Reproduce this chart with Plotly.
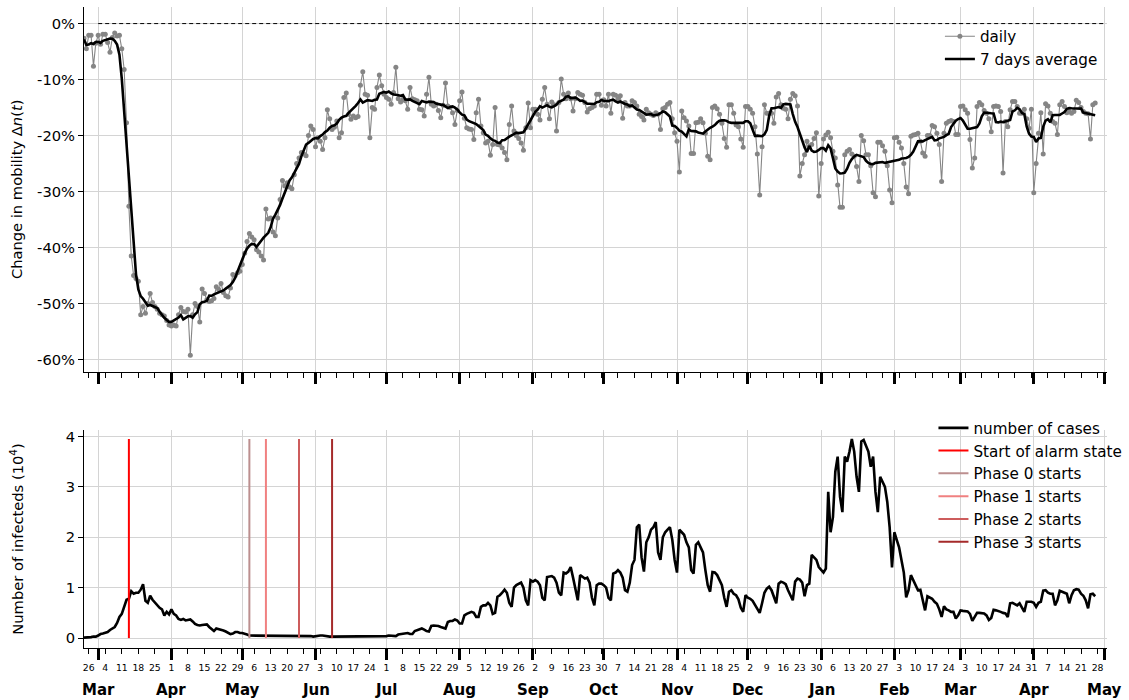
import pandas as pd
import plotly.graph_objects as go

FONT = "DejaVu Sans"
GRID = "#d4d4d4"
START = "2020-02-24"

# Daily change in mobility (%), one row per week (Monday to Sunday)
mobility_weeks = [
    [-2.6, -4.5, -2.1, -2.1, -7.6, -3.5, -2.1],
    [-3.7, -1.9, -1.9, -3.4, -5.1, -2.5, -1.7],
    [-2.2, -2.1, -4.5, -8.2, -17.7, -32.6, -41.5],
    [-45.0, -45.5, -46.0, -52.0, -50.5, -51.7, -50.0],
    [-48.2, -49.8, -50.5, -51.0, -51.7, -52.0, -52.2],
    [-53.0, -53.8, -54.0, -53.8, -54.0, -52.0, -50.7],
    [-51.4, -51.5, -51.0, -59.2, -52.0, -50.0, -50.5],
    [-53.3, -47.4, -48.2, -49.3, -49.6, -49.5, -49.1],
    [-47.0, -47.5, -46.4, -48.0, -48.6, -48.8, -47.2],
    [-44.8, -45.0, -44.5, -44.2, -43.0, -41.0, -38.9],
    [-37.5, -38.1, -38.6, -40.4, -40.8, -41.5, -42.2],
    [-33.1, -34.9, -34.7, -37.2, -37.9, -34.7, -31.4],
    [-28.0, -29.0, -28.4, -29.2, -29.5, -27.0, -25.0],
    [-24.0, -23.0, -23.3, -23.6, -20.0, -18.3, -18.9],
    [-22.0, -20.4, -21.0, -22.5, -20.4, -15.4, -17.0],
    [-18.9, -18.5, -17.4, -20.4, -19.5, -13.2, -12.4],
    [-16.2, -17.1, -16.5, -16.8, -16.6, -11.0, -8.6],
    [-12.6, -12.8, -20.4, -15.0, -15.3, -11.4, -9.2],
    [-11.1, -12.6, -13.2, -13.5, -14.4, -12.3, -7.8],
    [-13.4, -14.0, -13.5, -13.8, -15.3, -11.4, -13.4],
    [-13.6, -13.8, -15.3, -15.4, -16.5, -12.6, -9.6],
    [-14.4, -14.7, -14.4, -15.5, -16.8, -14.6, -10.6],
    [-14.7, -15.0, -15.9, -18.0, -15.5, -13.8, -12.2],
    [-16.9, -18.6, -18.8, -18.9, -20.7, -15.9, -13.5],
    [-18.3, -19.5, -21.3, -21.0, -23.5, -21.6, -15.0],
    [-21.6, -21.7, -22.2, -23.0, -24.3, -18.0, -14.7],
    [-19.2, -20.0, -20.5, -21.3, -22.6, -18.6, -14.2],
    [-18.6, -15.3, -15.3, -16.2, -17.2, -13.5, -11.4],
    [-14.4, -17.0, -14.0, -14.5, -19.2, -14.1, -9.9],
    [-12.6, -13.4, -12.4, -13.4, -15.6, -13.4, -12.3],
    [-12.6, -12.8, -14.1, -15.8, -15.2, -15.0, -14.7],
    [-12.6, -12.6, -14.6, -13.6, -14.7, -12.6, -16.0],
    [-12.6, -12.8, -13.4, -12.9, -16.9, -14.1, -14.7],
    [-14.7, -13.8, -14.1, -14.7, -16.2, -16.6, -17.2],
    [-15.3, -15.9, -16.2, -16.4, -15.9, -16.2, -18.9],
    [-15.2, -15.0, -14.4, -14.1, -17.0, -19.5, -21.0],
    [-26.5, -15.6, -16.8, -17.4, -18.3, -23.2, -23.2],
    [-17.7, -17.6, -17.0, -17.7, -19.6, -23.7, -24.3],
    [-15.0, -14.7, -15.2, -16.2, -17.8, -20.5, -22.1],
    [-14.5, -14.5, -16.0, -18.1, -18.4, -20.6, -22.1],
    [-14.8, -14.8, -15.3, -16.0, -18.4, -23.3, -30.6],
    [-22.0, -14.5, -16.0, -16.0, -16.0, -17.8, -13.1],
    [-12.5, -14.5, -15.1, -15.3, -17.0, -13.5, -12.5],
    [-12.9, -14.7, -27.2, -25.0, -23.4, -21.0, -21.9],
    [-21.6, -20.5, -19.5, -30.8, -25.0, -20.6, -19.9],
    [-19.4, -20.4, -22.8, -24.0, -28.8, -32.8, -32.8],
    [-23.4, -22.8, -22.5, -23.3, -23.7, -25.5, -28.2],
    [-20.0, -20.9, -23.4, -23.4, -25.4, -30.2, -30.9],
    [-21.2, -21.2, -21.8, -22.8, -25.4, -29.7, -32.0],
    [-20.4, -20.3, -21.2, -22.2, -25.0, -29.2, -30.4],
    [-20.1, -19.9, -19.8, -19.6, -21.0, -23.1, -23.7],
    [-20.0, -20.0, -18.2, -18.4, -19.6, -21.6, -28.2],
    [-19.6, -17.8, -17.5, -17.3, -17.5, -19.8, -19.8],
    [-14.8, -14.7, -15.4, -16.0, -20.7, -25.8, -24.0],
    [-14.8, -14.1, -14.5, -15.5, -16.0, -17.0, -19.3],
    [-14.8, -14.7, -14.8, -15.7, -26.7, -17.5, -18.4],
    [-15.4, -13.9, -13.9, -14.8, -16.0, -16.0, -15.3],
    [-17.0, -18.7, -15.3, -30.2, -25.0, -19.6, -15.9],
    [-23.3, -14.3, -14.7, -16.0, -17.5, -17.8, -19.8],
    [-14.5, -13.9, -14.8, -15.9, -15.7, -16.0, -15.7],
    [-13.7, -14.1, -15.0, -15.7, -16.0, -16.1, -20.6],
    [-14.5, -14.2],
]

# Daily number of new cases (in units of 10^4), one row per week (Monday to Sunday)
cases_weeks = [
    [0.01, 0.01, 0.02, 0.02, 0.03, 0.03, 0.05],
    [0.08, 0.09, 0.10, 0.12, 0.16, 0.19, 0.22],
    [0.30, 0.42, 0.48, 0.60, 0.76, 0.78, 0.93],
    [0.88, 0.90, 0.90, 0.96, 1.07, 0.74, 0.70],
    [0.84, 0.76, 0.70, 0.65, 0.60, 0.57, 0.45],
    [0.52, 0.47, 0.57, 0.48, 0.45, 0.38, 0.36],
    [0.38, 0.35, 0.36, 0.37, 0.33, 0.28, 0.26],
    [0.25, 0.26, 0.27, 0.27, 0.22, 0.18, 0.14],
    [0.19, 0.18, 0.17, 0.15, 0.13, 0.11, 0.08],
    [0.09, 0.12, 0.12, 0.10, 0.10, 0.09, 0.07],
    [0.05, 0.05, 0.05, 0.05, 0.05, 0.04, 0.04],
    [0.04, 0.05, 0.05, 0.05, 0.05, 0.04, 0.04],
    [0.04, 0.05, 0.05, 0.05, 0.04, 0.04, 0.04],
    [0.04, 0.04, 0.05, 0.05, 0.05, 0.04, 0.03],
    [0.04, 0.04, 0.05, 0.05, 0.04, 0.04, 0.03],
    [0.03, 0.03, 0.04, 0.04, 0.04, 0.03, 0.03],
    [0.03, 0.03, 0.03, 0.04, 0.04, 0.03, 0.03],
    [0.03, 0.03, 0.03, 0.04, 0.04, 0.03, 0.03],
    [0.03, 0.04, 0.04, 0.05, 0.05, 0.04, 0.04],
    [0.07, 0.08, 0.09, 0.10, 0.10, 0.08, 0.08],
    [0.14, 0.16, 0.18, 0.19, 0.17, 0.14, 0.13],
    [0.24, 0.25, 0.25, 0.24, 0.22, 0.20, 0.19],
    [0.32, 0.34, 0.34, 0.37, 0.35, 0.29, 0.29],
    [0.45, 0.48, 0.50, 0.52, 0.50, 0.42, 0.42],
    [0.62, 0.65, 0.65, 0.70, 0.65, 0.48, 0.50],
    [0.82, 0.85, 0.90, 0.96, 0.90, 0.70, 0.62],
    [1.00, 1.05, 1.08, 1.10, 1.00, 0.75, 0.65],
    [1.15, 1.12, 1.15, 1.12, 1.05, 0.80, 0.75],
    [1.21, 1.22, 1.23, 1.20, 1.10, 0.90, 0.85],
    [1.30, 1.28, 1.32, 1.41, 1.20, 0.95, 0.75],
    [1.25, 1.22, 1.18, 1.20, 1.10, 0.80, 0.65],
    [1.05, 1.08, 1.08, 1.05, 1.00, 0.80, 0.75],
    [1.28, 1.30, 1.35, 1.30, 1.20, 0.95, 0.92],
    [1.10, 1.45, 1.55, 2.20, 2.25, 1.60, 1.32],
    [1.90, 2.00, 2.15, 2.20, 2.30, 1.70, 1.55],
    [2.00, 2.10, 2.15, 2.20, 1.95, 1.55, 1.30],
    [2.15, 2.10, 2.05, 1.90, 1.80, 1.35, 1.28],
    [1.85, 1.90, 1.80, 1.70, 1.35, 1.05, 0.92],
    [1.31, 1.30, 1.25, 1.15, 1.05, 0.80, 0.62],
    [0.92, 0.95, 0.88, 0.85, 0.77, 0.60, 0.52],
    [0.85, 0.80, 0.78, 0.74, 0.65, 0.57, 0.50],
    [0.69, 0.90, 0.98, 1.02, 0.95, 0.80, 0.69],
    [1.08, 1.12, 1.10, 1.07, 0.95, 0.85, 0.75],
    [1.12, 1.18, 1.16, 1.10, 0.83, 1.05, 1.08],
    [1.65, 1.60, 1.55, 1.41, 1.35, 1.30, 1.38],
    [2.90, 2.10, 2.40, 3.30, 3.60, 2.80, 2.50],
    [3.60, 3.50, 3.70, 3.95, 3.70, 3.20, 2.90],
    [3.90, 3.93, 3.80, 3.70, 3.40, 3.60, 2.90],
    [2.50, 3.20, 3.10, 3.00, 2.70, 2.20, 1.40],
    [2.10, 1.95, 1.80, 1.55, 1.30, 0.81, 0.95],
    [1.25, 1.15, 1.05, 0.95, 0.96, 0.78, 0.55],
    [0.83, 0.80, 0.78, 0.72, 0.68, 0.57, 0.42],
    [0.63, 0.57, 0.55, 0.52, 0.52, 0.39, 0.45],
    [0.55, 0.54, 0.54, 0.53, 0.48, 0.34, 0.42],
    [0.50, 0.50, 0.49, 0.49, 0.45, 0.36, 0.40],
    [0.56, 0.55, 0.54, 0.52, 0.50, 0.49, 0.42],
    [0.69, 0.70, 0.67, 0.65, 0.69, 0.60, 0.52],
    [0.72, 0.72, 0.72, 0.70, 0.62, 0.70, 0.72],
    [0.94, 0.95, 0.90, 0.88, 0.88, 0.65, 0.75],
    [0.94, 0.92, 0.90, 0.88, 0.69, 0.85, 0.95],
    [0.97, 0.96, 0.88, 0.84, 0.75, 0.59, 0.87],
    [0.88, 0.83],
]

alarm_label = "Start of alarm state"
alarm_date = "2020-03-14"
phase_labels = ["Phase 0 starts", "Phase 1 starts", "Phase 2 starts", "Phase 3 starts"]
phase_dates = ["2020-05-04", "2020-05-11", "2020-05-25", "2020-06-08"]
phase_colors = ["rosybrown", "lightcoral", "indianred", "brown"]

mobility_ticks = [0, -10, -20, -30, -40, -50, -60]
mobility_ticktext = ["0%", "-10%", "-20%", "-30%", "-40%", "-50%", "-60%"]
cases_ticks = [0, 1, 2, 3, 4]

mobility = [v for week in mobility_weeks for v in week]
cases = [v for week in cases_weeks for v in week]
dates = pd.date_range(START, periods=len(mobility), freq="D")
avg7 = pd.Series(mobility).rolling(7, center=True, min_periods=1).mean()

weeks = pd.date_range("2020-02-26", "2021-04-28", freq="7D")
week_vals = [d.strftime("%Y-%m-%d") for d in weeks]
week_text = [str(d.day) for d in weeks]
months = pd.date_range("2020-03-01", "2021-05-01", freq="MS")
month_vals = [d.strftime("%Y-%m-%d") for d in months]
month_text = [d.strftime("%b") for d in months]

x_range = ["2020-02-24", "2021-05-02"]
peak = max(cases)

fig = go.Figure()

fig.add_trace(go.Scatter(
    x=dates, y=mobility, name="daily", mode="lines+markers",
    line=dict(color="#858585", width=1.1), marker=dict(color="#858585", size=5),
    xaxis="x", yaxis="y", legend="legend"))
fig.add_trace(go.Scatter(
    x=dates, y=avg7, name="7 days average", mode="lines",
    line=dict(color="black", width=2.6), xaxis="x", yaxis="y", legend="legend"))
fig.add_trace(go.Scatter(
    x=["2020-03-01", "2021-05-01"], y=[0, 0], mode="lines", showlegend=False,
    line=dict(color="black", width=1, dash="4px,3px"), xaxis="x", yaxis="y", hoverinfo="skip"))

fig.add_trace(go.Scatter(
    x=dates, y=cases, name="number of cases", mode="lines",
    line=dict(color="black", width=2.6), xaxis="x2", yaxis="y2", legend="legend2"))
fig.add_trace(go.Scatter(
    x=[alarm_date, alarm_date], y=[0, peak], name=alarm_label, mode="lines",
    line=dict(color="red", width=2), xaxis="x2", yaxis="y2", legend="legend2"))
for label, day, color in zip(phase_labels, phase_dates, phase_colors):
    fig.add_trace(go.Scatter(
        x=[day, day], y=[0, peak], name=label, mode="lines",
        line=dict(color=color, width=2), xaxis="x2", yaxis="y2", legend="legend2"))

# invisible carriers for the month-tick overlay axes
for xa, ya in (("x3", "y"), ("x4", "y2")):
    fig.add_trace(go.Scatter(x=[month_vals[0]], y=[None], mode="lines", showlegend=False,
                             hoverinfo="skip", xaxis=xa, yaxis=ya))

week_axis = dict(type="date", range=x_range, tickmode="array", tickvals=week_vals,
                 ticks="outside", ticklen=5, tickwidth=1, tickcolor="black",
                 showline=True, linecolor="black", linewidth=1, showgrid=False,
                 zeroline=False, automargin=False)
month_axis = dict(type="date", range=x_range, tickmode="array", tickvals=month_vals,
                  ticks="outside", ticklen=11, tickwidth=3, tickcolor="black",
                  showticklabels=False, showline=False, showgrid=True,
                  gridcolor=GRID, gridwidth=1, zeroline=False, automargin=False)
y_common = dict(ticks="outside", ticklen=5, tickwidth=1, tickcolor="black",
                showline=True, linecolor="black", linewidth=1, showgrid=True,
                gridcolor=GRID, gridwidth=1, zeroline=False, automargin=False,
                tickfont=dict(size=14.7))

annotations = [
    dict(x=v, y=-0.066, xref="x2", yref="paper", text=f"<b>{t}</b>", showarrow=False,
         xanchor="center", yanchor="middle", font=dict(size=15, family=FONT, color="black"))
    for v, t in zip(month_vals, month_text)
]

fig.update_layout(
    width=1129, height=700,
    margin=dict(l=84, r=22, t=7, b=52, autoexpand=False),
    paper_bgcolor="white", plot_bgcolor="white",
    font=dict(family=FONT, size=14.7, color="black"),
    xaxis=dict(week_axis, anchor="y", domain=[0, 1], showticklabels=False),
    xaxis3=dict(month_axis, anchor="y", overlaying="x"),
    xaxis2=dict(week_axis, anchor="y2", domain=[0, 1], ticktext=week_text,
                tickfont=dict(size=9.3), ticklabelstandoff=6),
    xaxis4=dict(month_axis, anchor="y2", overlaying="x2"),
    yaxis=dict(y_common, anchor="x", domain=[0.431, 1], range=[-62.16, 2.96],
               tickmode="array", tickvals=mobility_ticks, ticktext=mobility_ticktext,
               title=dict(text="Change in mobility Δ<i>n</i>(<i>t</i>)", standoff=10,
                          font=dict(size=14.7))),
    yaxis2=dict(y_common, anchor="x2", domain=[0, 0.34], range=[-0.1965, 4.127],
                tickmode="array", tickvals=cases_ticks,
                title=dict(text="Number of infecteds (10<sup>4</sup>)", standoff=38,
                           font=dict(size=14.7))),
    legend=dict(x=0.996, xanchor="right", y=0.98, yanchor="top",
                bgcolor="rgba(0,0,0,0)", font=dict(size=15.2), tracegroupgap=0),
    legend2=dict(x=1.02, xanchor="right", y=0.369, yanchor="top",
                 bgcolor="rgba(0,0,0,0)", font=dict(size=15.2), tracegroupgap=0),
    annotations=annotations,
    showlegend=True,
)

fig.write_html("out.html")
